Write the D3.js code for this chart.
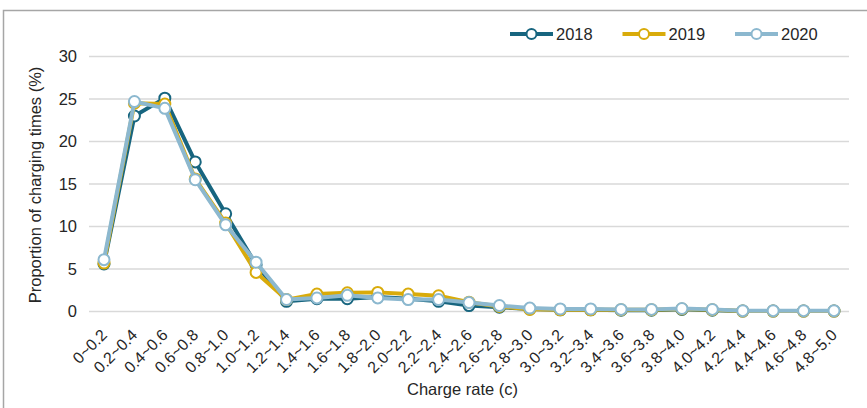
<!DOCTYPE html>
<html><head><meta charset="utf-8">
<script src="https://cdn.jsdelivr.net/npm/d3@7"></script>
<style>body{margin:0;background:#fff}svg{display:block;font-family:"Liberation Sans",Arial,sans-serif}</style>
</head><body><svg id="c" width="867" height="408"></svg>
<script>
const categories = ["0~0.2","0.2~0.4","0.4~0.6","0.6~0.8","0.8~1.0","1.0~1.2","1.2~1.4","1.4~1.6","1.6~1.8","1.8~2.0","2.0~2.2","2.2~2.4","2.4~2.6","2.6~2.8","2.8~3.0","3.0~3.2","3.2~3.4","3.4~3.6","3.6~3.8","3.8~4.0","4.0~4.2","4.2~4.4","4.4~4.6","4.6~4.8","4.8~5.0"];
const s2018 = [5.6,23.0,25.1,17.6,11.5,5.5,1.2,1.5,1.5,1.7,1.5,1.2,0.7,0.5,0.3,0.2,0.2,0.15,0.15,0.25,0.15,0.05,0.05,0.05,0.05];
const s2019 = [5.7,24.5,24.4,15.6,10.4,4.6,1.4,2.05,2.2,2.25,2.05,1.85,1.1,0.6,0.25,0.2,0.2,0.2,0.2,0.3,0.2,0.05,0.05,0.05,0.05];
const s2020 = [6.1,24.7,23.9,15.5,10.2,5.8,1.4,1.6,1.9,1.6,1.4,1.4,1.05,0.7,0.4,0.3,0.3,0.25,0.25,0.35,0.25,0.1,0.1,0.1,0.1];
const yTicks = [0,5,10,15,20,25,30];
const seriesNames = ["2018","2019","2020"];
const colors = ["#17657f","#d9ab0a","#8cb8cf"];
const seriesData = [s2018,s2019,s2020];
const FONT = "Liberation Sans, Arial, sans-serif";

const svg = d3.select("#c");
svg.append("rect").attr("x",3.5).attr("y",10.5).attr("width",880).attr("height",420)
  .attr("fill","none").attr("stroke","#a6a6a6").attr("stroke-width",1.5);

const x = d3.scalePoint().domain(categories).range([104,834]);
const y = d3.scaleLinear().domain([0,30]).range([311.5,56.5]);

// gridlines
svg.append("g").selectAll("line").data(yTicks).join("line")
  .attr("x1",89).attr("x2",849).attr("y1",d=>y(d)).attr("y2",d=>y(d))
  .attr("stroke","#d9d9d9").attr("stroke-width",1.5);

// y axis labels
const yAxis = d3.axisLeft(y).tickValues(yTicks).tickSize(0).tickPadding(0);
const gy = svg.append("g").attr("transform","translate(77,0)").call(yAxis);
gy.select(".domain").remove();
gy.attr("font-size",null).attr("font-family",null);
gy.selectAll("text").attr("font-size",16.5).attr("fill","#262626").attr("font-family",FONT);

// x axis labels
const xAxis = d3.axisBottom(x).tickSize(0).tickPadding(0);
const gx = svg.append("g").call(xAxis);
gx.select(".domain").remove();
gx.attr("font-size",null).attr("font-family",null);
gx.selectAll(".tick").attr("transform",d=>`translate(${x(d)+4},336)`);
gx.selectAll("text").attr("font-size",16).attr("fill","#262626")
  .attr("font-family",FONT)
  .attr("text-anchor","end").attr("dy",0).attr("y",0)
  .attr("transform","rotate(-45)");

// axis titles
svg.append("text").attr("x",462.5).attr("y",395).attr("text-anchor","middle")
  .attr("font-size",16.5).attr("fill","#262626").attr("font-family",FONT).text("Charge rate (c)");
svg.append("text").attr("transform","translate(41,185) rotate(-90)").attr("text-anchor","middle")
  .attr("font-size",16.5).attr("fill","#262626").attr("font-family",FONT).text("Proportion of charging times (%)");

// lines
const line = d3.line().x((d,i)=>x(categories[i])).y(d=>y(d));
seriesData.forEach((s,k)=>{
  const g = svg.append("g");
  g.append("path").datum(s).attr("d",line).attr("fill","none")
    .attr("stroke",colors[k]).attr("stroke-width",4).attr("stroke-linejoin","round");
  g.selectAll("circle").data(s).join("circle")
    .attr("cx",(d,i)=>x(categories[i])).attr("cy",d=>y(d)).attr("r",5.5)
    .attr("fill","#fff").attr("stroke",colors[k]).attr("stroke-width",2);
});

// legend
const lg = svg.append("g");
seriesNames.forEach((n,k)=>{
  const x0 = 510 + k*112.5;
  lg.append("line").attr("x1",x0).attr("x2",x0+43).attr("y1",34).attr("y2",34)
    .attr("stroke",colors[k]).attr("stroke-width",4);
  lg.append("circle").attr("cx",x0+21.5).attr("cy",34).attr("r",5)
    .attr("fill","#fff").attr("stroke",colors[k]).attr("stroke-width",2);
  lg.append("text").attr("x",x0+46).attr("y",40).attr("font-size",16.5)
    .attr("fill","#262626").attr("font-family",FONT).text(n);
});
</script></body></html>
